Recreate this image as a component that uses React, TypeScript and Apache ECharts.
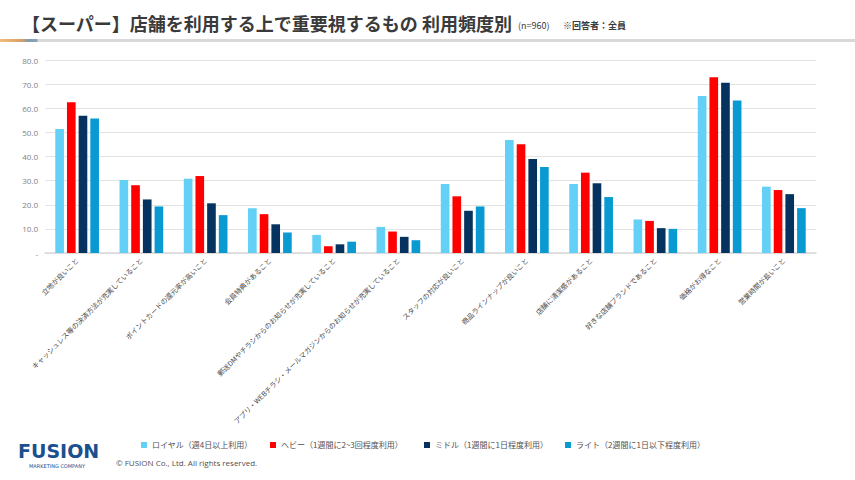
import React, { useEffect, useRef } from "react";
import * as echarts from "echarts";

// Survey categories (x axis)
const categories = [
  "立地が良いこと",
  "キャッシュレス等の決済方法が充実していること",
  "ポイントカードの還元率が高いこと",
  "会員特典があること",
  "郵送DMやチラシからのお知らせが充実していること",
  "アプリ・WEBチラシ・メールマガジンからのお知らせが充実していること",
  "スタッフの対応が良いこと",
  "商品ラインナップが良いこと",
  "店舗に清潔感があること",
  "好きな店舗ブランドであること",
  "価格がお得なこと",
  "営業時間が長いこと",
];

// Series names
const seriesNames = [
  "ロイヤル（週4日以上利用）",
  "ヘビー（1週間に2~3回程度利用）",
  "ミドル（1週間に1日程度利用）",
  "ライト（2週間に1日以下程度利用）",
];

// Values (%) per frequency segment
const royal = [51.4, 30.3, 30.8, 18.6, 7.5, 10.8, 28.6, 46.8, 28.6, 13.9, 65.1, 27.5];
const heavy = [62.5, 28.1, 31.9, 16.1, 2.8, 8.9, 23.5, 45.1, 33.3, 13.3, 72.9, 26.1];
const middle = [56.9, 22.2, 20.6, 11.9, 3.6, 6.7, 17.5, 39.0, 28.9, 10.3, 70.6, 24.4];
const light = [55.8, 19.3, 15.7, 8.5, 4.7, 5.3, 19.3, 35.6, 23.2, 10.0, 63.2, 18.6];

const seriesValues = [royal, heavy, middle, light];
const seriesColors = ["#63D0F6", "#FF0000", "#06325F", "#0A9AD2"];

const legendLefts = [141, 270, 424, 565];

const JP = '"Noto Sans CJK JP", "Noto Sans", sans-serif';

export default function App() {
  const ref = useRef<HTMLDivElement>(null);

  useEffect(() => {
    if (!ref.current) return;
    const chart = echarts.init(ref.current, null, { renderer: "svg" });

    const option: any = {
      animation: false,
      backgroundColor: "#ffffff",
      textStyle: { fontFamily: JP },
      grid: { left: 45, right: 39, top: 60, bottom: 227, containLabel: false },
      legend: seriesNames.map((name, i) => ({
        data: [name],
        left: legendLefts[i],
        top: 441,
        padding: 0,
        icon: "rect",
        itemWidth: 6,
        itemHeight: 6,
        textStyle: { fontSize: 8, color: "#505050", fontFamily: JP },
        selectedMode: false,
      })),
      xAxis: {
        type: "category",
        data: categories,
        axisTick: { show: false },
        axisLine: { show: true, lineStyle: { color: "#d9d9d9", width: 1.5 } },
        axisLabel: {
          interval: 0,
          rotate: 45,
          fontSize: 7,
          color: "#4a4a4a",
          margin: 6,
          fontFamily: JP,
        },
      },
      yAxis: {
        type: "value",
        min: 0,
        max: 80,
        interval: 10,
        axisLine: { show: false },
        axisTick: { show: false },
        splitLine: { lineStyle: { color: "#e3e3e3", width: 1 } },
        axisLabel: {
          fontSize: 8,
          color: "#7f7f7f",
          margin: 7,
          fontFamily: '"Open Sans", sans-serif',
          formatter: (v: number) => (v === 0 ? "-" : v.toFixed(1)),
        },
      },
      series: seriesNames.map((name, i) => ({
        name,
        type: "bar",
        data: seriesValues[i],
        barGap: "35%",
        barCategoryGap: "32%",
        itemStyle: { color: seriesColors[i] },
      })),
      graphic: [
        {
          type: "text",
          left: 22,
          top: 14,
          style: {
            text: "【スーパー】店舗を利用する上で重要視するもの 利用頻度別",
            fontSize: 18,
            fontWeight: "bold",
            fill: "#3a3a3a",
            fontFamily: JP,
          },
        },
        {
          type: "text",
          left: 518,
          top: 21,
          style: {
            text: "(n=960)",
            fontSize: 9,
            fill: "#3a3a3a",
            fontFamily: JP,
          },
        },
        {
          type: "text",
          left: 563,
          top: 21,
          style: {
            text: "※回答者：全員",
            fontSize: 9,
            fontWeight: "bold",
            fill: "#3a3a3a",
            fontFamily: JP,
          },
        },
        {
          type: "rect",
          shape: { x: 0, y: 39, width: 855, height: 3 },
          style: {
            fill: new echarts.graphic.LinearGradient(0, 0, 1, 0, [
              { offset: 0, color: "#F2BC7E" },
              { offset: 0.025, color: "#D9A066" },
              { offset: 0.034, color: "#7F9BB2" },
              { offset: 0.043, color: "#8EA5B8" },
              { offset: 0.045, color: "#D9D9D9" },
              { offset: 1, color: "#D9D9D9" },
            ]),
          },
        },
        {
          type: "text",
          left: 18,
          top: 441,
          style: {
            text: "FUSION",
            fontSize: 19,
            fontWeight: "bold",
            fill: "#1B4F8E",
            fontFamily: '"DejaVu Sans", sans-serif',
          },
        },
        {
          type: "text",
          left: 29,
          top: 463,
          style: {
            text: "MARKETING COMPANY",
            fontSize: 5,
            fill: "#1B4F8E",
            fontFamily: '"DejaVu Sans", sans-serif',
          },
        },
        {
          type: "text",
          left: 116,
          top: 458,
          style: {
            text: "© FUSION Co., Ltd. All rights reserved.",
            fontSize: 8,
            fill: "#505050",
            fontFamily: '"Open Sans", sans-serif',
          },
        },
      ],
    };

    chart.setOption(option);
    return () => chart.dispose();
  }, []);

  return (
    <div
      ref={ref}
      style={{ position: "absolute", left: 0, top: 0, width: 855, height: 480 }}
    />
  );
}
